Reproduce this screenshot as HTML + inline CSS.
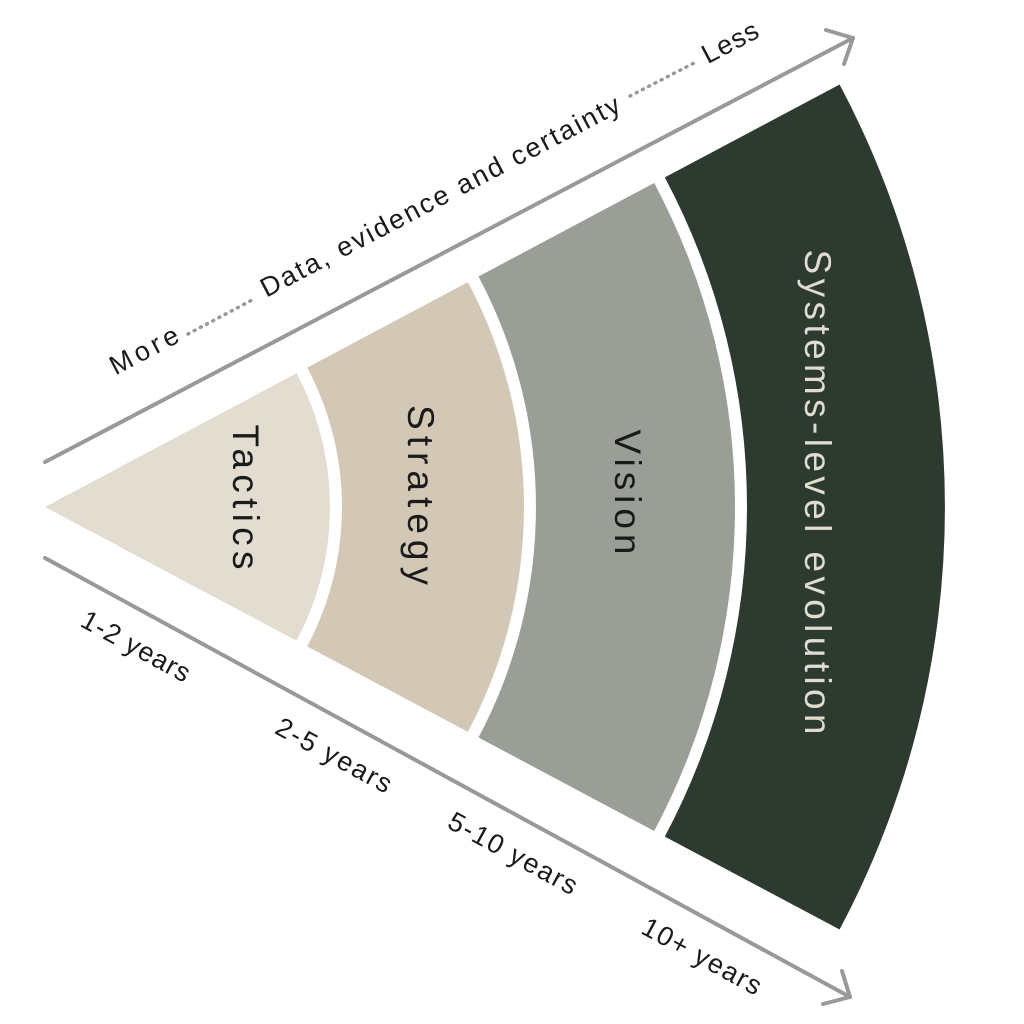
<!DOCTYPE html>
<html><head><meta charset="utf-8"><style>
html,body{margin:0;padding:0;background:#fff;}
svg{display:block;}
text{font-family:"Liberation Sans","DejaVu Sans",sans-serif;}
</style></head><body>
<svg width="1024" height="1024" viewBox="0 0 1024 1024" xmlns="http://www.w3.org/2000/svg">
<rect width="1024" height="1024" fill="#fff"/>
<path d="M45,507 L296.6,373.2 A285 285 0 0 1 296.6,640.8 Z" fill="#e2ddd0"/>
<path d="M307.2,367.6 L467.9,282.1 A479 479 0 0 1 467.9,731.9 L307.2,646.4 A297 297 0 0 0 307.2,367.6 Z" fill="#d3c7b6"/>
<path d="M478.5,276.5 L654.2,183.0 A690 690 0 0 1 654.2,831.0 L478.5,737.5 A491 491 0 0 0 478.5,276.5 Z" fill="#999e96"/>
<path d="M664.8,177.4 L839.6,84.5 A900 900 0 0 1 839.6,929.5 L664.8,836.6 A702 702 0 0 0 664.8,177.4 Z" fill="#2d3a2f"/>
<g font-size="37" text-anchor="middle" dominant-baseline="middle" lengthAdjust="spacing">
<text transform="translate(243,497) rotate(90)" fill="#1a1a1a" textLength="145" lengthAdjust="spacing">Tactics</text>
<text transform="translate(418,495) rotate(90)" fill="#1a1a1a" textLength="180" lengthAdjust="spacing">Strategy</text>
<text transform="translate(625,492) rotate(90)" fill="#1a1a1a" textLength="125" lengthAdjust="spacing">Vision</text>
<text transform="translate(815,492) rotate(90)" fill="#e0dccf" textLength="485" lengthAdjust="spacing">Systems-level evolution</text>
</g>
<g stroke="#999a97" stroke-width="4" fill="none" stroke-linecap="round" stroke-linejoin="round">
<line x1="45" y1="462" x2="853" y2="38"/>
<polyline points="826,30 853,38 844,64"/>
<line x1="45" y1="558" x2="850" y2="997"/>
<polyline points="823,1004 850,997 842,971"/>
</g>
<g stroke="#999a97" stroke-width="3.5" stroke-dasharray="1 6" stroke-linecap="round">
<line x1="188" y1="334" x2="254" y2="299"/>
<line x1="630" y1="96" x2="698" y2="61"/>
</g>
<g font-size="27" fill="#1a1a1a" text-anchor="middle" dominant-baseline="middle">
<text transform="translate(145,352) rotate(-27.7)" textLength="74" lengthAdjust="spacing">More</text>
<text transform="translate(441,198) rotate(-27.7)" textLength="402" lengthAdjust="spacing">Data, evidence and certainty</text>
<text transform="translate(731,44) rotate(-27.7)" textLength="60" lengthAdjust="spacing">Less</text>
</g>
<g font-size="27" fill="#1a1a1a" text-anchor="middle" dominant-baseline="middle">
<text transform="translate(135,648) rotate(28.6)" textLength="120" lengthAdjust="spacing">1-2 years</text>
<text transform="translate(333,757) rotate(28.6)" textLength="128" lengthAdjust="spacing">2-5 years</text>
<text transform="translate(512,855) rotate(28.6)" textLength="143" lengthAdjust="spacing">5-10 years</text>
<text transform="translate(701,958) rotate(28.6)" textLength="132" lengthAdjust="spacing">10+ years</text>
</g>
</svg>
</body></html>
